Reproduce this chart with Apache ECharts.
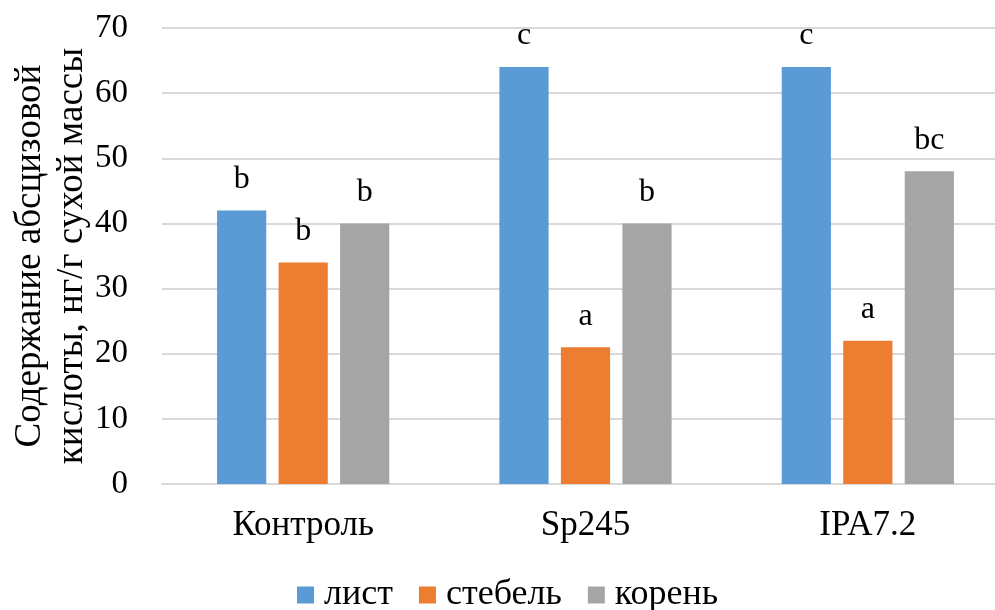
<!DOCTYPE html>
<html><head><meta charset="utf-8">
<script src="https://cdn.jsdelivr.net/npm/echarts@6/dist/echarts.min.js"></script>
<style>html,body{margin:0;padding:0;background:#fff}#c{width:995px;height:610px}</style>
</head><body><div id="c"></div>
<script>
const categories = ['Контроль', 'Sp245', 'IPA7.2'];
const seriesNames = ['лист', 'стебель', 'корень'];
const leafValues = [42, 64, 64];
const stemValues = [34, 21, 22];
const rootValues = [40, 40, 48];
const leafLetters = ['b', 'c', 'c'];
const stemLetters = ['b', 'a', 'a'];
const rootLetters = ['b', 'b', 'bc'];
const yTicks = [0, 10, 20, 30, 40, 50, 60, 70];
const yTitle = 'Содержание абсцизовой\nкислоты, нг/г сухой массы';

const colors = ['#5B9BD5', '#ED7D31', '#A5A5A5'];
const font = 'Liberation Serif';

function mk(name, vals, letters, color) {
  return {
    name, type: 'bar', data: vals, barGap: '25%', barCategoryGap: '39%',
    itemStyle: { color },
    label: {
      show: true, position: 'top', distance: 15,
      formatter: p => letters[p.dataIndex],
      fontFamily: font, fontSize: 32, color: '#000'
    }
  };
}

const chart = echarts.init(document.getElementById('c'));
chart.setOption({
  animation: false,
  textStyle: { fontFamily: font },
  color: colors,
  grid: { left: 162, top: 28, width: 847, height: 456, containLabel: false, outerBoundsMode: 'none' },
  legend: {
    top: 572, left: 292, itemWidth: 17, itemHeight: 17, itemGap: 26,
    icon: 'rect',
    textStyle: { fontFamily: font, fontSize: 36, color: '#000', padding: [0, 0, 0, 5] },
    data: seriesNames
  },
  xAxis: {
    type: 'category', data: categories,
    axisLine: { show: true, lineStyle: { color: '#D9D9D9', width: 2 } },
    axisTick: { show: false },
    axisLabel: { fontFamily: font, fontSize: 35, color: '#000', margin: 24 }
  },
  yAxis: {
    type: 'value', min: yTicks[0], max: yTicks[yTicks.length - 1], interval: 10,
    name: yTitle, nameLocation: 'middle', nameGap: 69, nameMoveOverlap: false,
    nameTextStyle: { fontFamily: font, fontSize: 37, color: '#000', lineHeight: 42 },
    axisLine: { show: false }, axisTick: { show: false },
    axisLabel: { fontFamily: font, fontSize: 33, color: '#000', margin: 34 },
    splitLine: { lineStyle: { color: '#D9D9D9', width: 2 } }
  },
  series: [
    mk(seriesNames[0], leafValues, leafLetters, colors[0]),
    mk(seriesNames[1], stemValues, stemLetters, colors[1]),
    mk(seriesNames[2], rootValues, rootLetters, colors[2])
  ]
});
</script></body></html>
